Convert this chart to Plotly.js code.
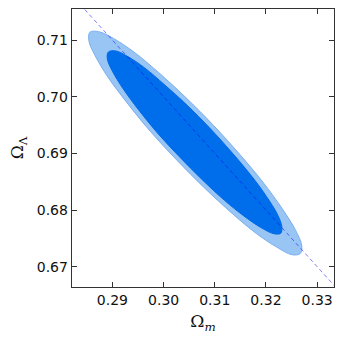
<!DOCTYPE html>
<html>
<head>
<meta charset="utf-8">
<script src="https://cdn.plot.ly/plotly-3.0.1.min.js"></script>
<style>
  html, body { margin: 0; padding: 0; background: #fff; }
  #plot { width: 343px; height: 344px; }
</style>
</head>
<body>
<div id="plot"></div>
<script>
// 2-sigma contour (Omega_m, Omega_Lambda)
var outerOm = [0.3267, 0.3251, 0.3222, 0.3182, 0.3134, 0.3081, 0.3026, 0.2974,
               0.2928, 0.2891, 0.2866, 0.2854, 0.2856, 0.2873, 0.2902, 0.2942,
               0.2990, 0.3043, 0.3098, 0.3150, 0.3196, 0.3232, 0.3258, 0.3270];
var outerOl = [0.6723, 0.6721, 0.6734, 0.6758, 0.6794, 0.6838, 0.6888, 0.6939,
               0.6990, 0.7035, 0.7073, 0.7099, 0.7114, 0.7115, 0.7103, 0.7079,
               0.7043, 0.6999, 0.6949, 0.6897, 0.6847, 0.6802, 0.6764, 0.6737];

// 1-sigma contour
var innerOm = [0.3229, 0.3216, 0.3192, 0.3159, 0.3119, 0.3076, 0.3031, 0.2988,
               0.2951, 0.2921, 0.2900, 0.2890, 0.2892, 0.2906, 0.2930, 0.2963,
               0.3002, 0.3046, 0.3090, 0.3133, 0.3171, 0.3201, 0.3222, 0.3231];
var innerOl = [0.6759, 0.6758, 0.6768, 0.6788, 0.6817, 0.6853, 0.6894, 0.6936,
               0.6977, 0.7014, 0.7045, 0.7067, 0.7079, 0.7081, 0.7071, 0.7051,
               0.7021, 0.6985, 0.6945, 0.6902, 0.6861, 0.6824, 0.6793, 0.6771];

// flat universe line, Omega_m + Omega_Lambda = 1
var flatOm = [0.28, 0.34];
var flatOl = [0.72, 0.66];

var xTicks = [0.29, 0.30, 0.31, 0.32, 0.33];
var yTicks = [0.67, 0.68, 0.69, 0.70, 0.71];

var outer = {
  x: outerOm.concat([outerOm[0]]),
  y: outerOl.concat([outerOl[0]]),
  mode: "lines",
  fill: "toself",
  fillcolor: "rgb(153,197,245)",
  line: {color: "rgb(120,175,240)", width: 1, shape: "spline", smoothing: 1},
  hoverinfo: "skip"
};

var inner = {
  x: innerOm.concat([innerOm[0]]),
  y: innerOl.concat([innerOl[0]]),
  mode: "lines",
  fill: "toself",
  fillcolor: "rgb(0,110,235)",
  line: {color: "rgb(0,105,230)", width: 1, shape: "spline", smoothing: 1},
  hoverinfo: "skip"
};

var flat = {
  x: flatOm,
  y: flatOl,
  mode: "lines",
  line: {color: "rgba(0,0,255,0.5)", width: 1, dash: "4px,3px"},
  hoverinfo: "skip"
};

var axisStyle = {
  showgrid: false,
  zeroline: false,
  showline: true,
  linecolor: "#333",
  linewidth: 1.3,
  mirror: "ticks",
  ticks: "inside",
  ticklen: 5,
  tickwidth: 1,
  tickcolor: "#333",
  tickfont: {family: "DejaVu Sans", size: 14, color: "#111"}
};

var layout = {
  width: 343,
  height: 344,
  margin: {l: 72, r: 9, t: 9, b: 57},
  showlegend: false,
  paper_bgcolor: "#fff",
  plot_bgcolor: "#fff",
  xaxis: Object.assign({}, axisStyle, {
    range: [0.2821, 0.3333],
    tickvals: xTicks,
    ticktext: xTicks.map(v => v.toFixed(2)),
    title: {text: "Ω<sub><i>m</i></sub>", font: {family: "DejaVu Serif", size: 17, color: "#111"}, standoff: 8}
  }),
  yaxis: Object.assign({}, axisStyle, {
    range: [0.6664, 0.7155],
    tickvals: yTicks,
    ticktext: yTicks.map(v => v.toFixed(2)),
    title: {text: "Ω<sub>Λ</sub>", font: {family: "DejaVu Serif", size: 17, color: "#111"}, standoff: 8}
  })
};

Plotly.newPlot("plot", [outer, inner, flat], layout, {displayModeBar: false, staticPlot: true});
</script>
</body>
</html>
